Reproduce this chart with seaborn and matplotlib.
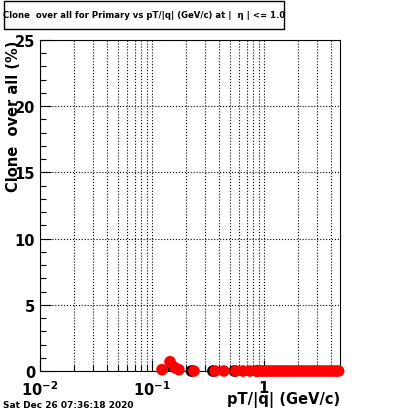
import numpy as np
import pandas as pd
import matplotlib
matplotlib.use('Agg')
import matplotlib.pyplot as plt
import matplotlib.patches as patches
from matplotlib.ticker import LogLocator, NullFormatter, FixedLocator, FixedFormatter, MultipleLocator
import seaborn as sns

# valores
pt_vermelho = [0.123, 0.145, 0.160, 0.174, 0.237, 0.365, 0.439, 0.562, 0.649, 0.750,
               0.87, 0.92, 0.97, 1.03, 1.09, 1.15, 1.22, 1.29, 1.37, 1.45, 1.54,
               1.63, 1.73, 1.84, 1.95, 2.07, 2.20, 2.34, 2.49, 2.65, 2.82, 3.00,
               3.19, 3.40, 3.62, 3.86, 4.11, 4.38, 4.65]
clone_vermelho = [0.1, 0.7, 0.25, 0.1, 0.0, 0.0, 0.0, 0.0, 0.0, 0.0,
                  0.0, 0.0, 0.0, 0.0, 0.0, 0.0, 0.0, 0.0, 0.0, 0.0, 0.0,
                  0.0, 0.0, 0.0, 0.0, 0.0, 0.0, 0.0, 0.0, 0.0, 0.0, 0.0,
                  0.0, 0.0, 0.0, 0.0, 0.0, 0.0, 0.0]
pt_preto = [0.152, 0.225, 0.350, 0.545, 0.86]
clone_preto = [0.35, 0.0, 0.0, 0.0, 0.0]

df_v = pd.DataFrame({'pt': pt_vermelho, 'clone': clone_vermelho})
df_p = pd.DataFrame({'pt': pt_preto, 'clone': clone_preto})

sns.set_style('ticks')
plt.rcParams['font.family'] = ['DejaVu Sans']
plt.rcParams['font.weight'] = 'bold'
plt.rcParams['text.color'] = 'black'
plt.rcParams['xtick.color'] = 'black'
plt.rcParams['ytick.color'] = 'black'
plt.rcParams['axes.labelcolor'] = 'black'

fig = plt.figure(figsize=(4.0, 4.14), dpi=100)
ax = fig.add_axes([0.1, 0.1014, 0.75, 0.7996])

sns.scatterplot(data=df_p, x='pt', y='clone', ax=ax, color='black', s=70,
                edgecolor='none', clip_on=False, zorder=3)
sns.scatterplot(data=df_v, x='pt', y='clone', ax=ax, color='red', s=70,
                edgecolor='none', clip_on=False, zorder=4)

ax.set_xscale('log')
ax.set_xlim(0.01, 4.78)
ax.set_ylim(0, 25)

ax.xaxis.set_major_locator(FixedLocator([0.01, 0.1, 1]))
ax.xaxis.set_major_formatter(FixedFormatter([r'$\mathbf{10^{-2}}$', r'$\mathbf{10^{-1}}$', r'$\mathbf{1}$']))
ax.xaxis.set_minor_locator(LogLocator(base=10, subs=np.arange(2, 10)))
ax.xaxis.set_minor_formatter(NullFormatter())
ax.yaxis.set_major_locator(MultipleLocator(5))
ax.yaxis.set_minor_locator(MultipleLocator(1))

ax.tick_params(axis='both', which='major', direction='in', length=8, width=0.8,
               labelsize=10.5, top=False, right=False, colors='black')
ax.tick_params(axis='both', which='minor', direction='in', length=4, width=0.8,
               top=False, right=False, colors='black')
ax.tick_params(axis='x', which='major', pad=6)
for lab in ax.get_yticklabels():
    lab.set_fontweight('bold')

ax.grid(True, which='major', axis='both', linestyle=':', color='black', linewidth=0.8)
ax.grid(True, which='minor', axis='x', linestyle=':', color='black', linewidth=0.8)
ax.set_axisbelow(True)
for s in ax.spines.values():
    s.set_linewidth(0.8)
    s.set_color('black')

ax.set_xlabel('')
ax.set_ylabel('')
fig.text(0.85, 1 - 400 / 414, 'pT/|q| (GeV/c)', ha='right', va='center', fontsize=10.5,
         fontweight='bold', color='black')
fig.text(0.035, 0.901, 'Clone  over all (%)', ha='center', va='top', rotation=90,
         fontsize=10.5, fontweight='bold', color='black')

# caixa do titulo
fig.patches.append(patches.Rectangle((4 / 400, 1 - 30 / 414), 280 / 400, 28 / 414,
                                     transform=fig.transFigure, facecolor='white',
                                     edgecolor='black', linewidth=1))
fig.text(144 / 400, 1 - 16 / 414, 'Clone  over all for Primary vs pT/|q| (GeV/c) at |  η | <= 1.0',
         ha='center', va='center', fontsize=6.1, fontweight='bold', color='black')

fig.text(3 / 400, 1 - 406 / 414, 'Sat Dec 26 07:36:18 2020', ha='left', va='center',
         fontsize=6.5, fontweight='bold', color='black')

fig.savefig('out.png', dpi=100)
